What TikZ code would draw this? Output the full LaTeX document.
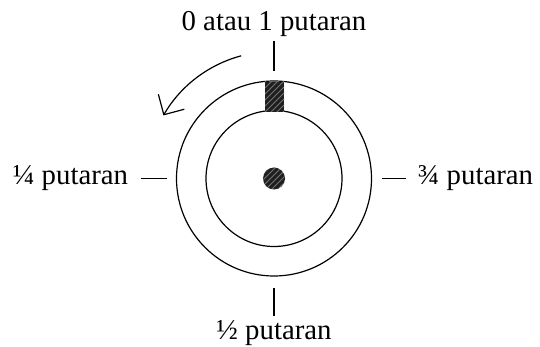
\documentclass[tikz,border=0pt]{standalone}
\usepackage{fontspec}
\setmainfont{Liberation Serif}
\usetikzlibrary{positioning,arrows.meta,patterns}

\begin{document}
\begin{tikzpicture}[
    x=0.5pt, y=0.5pt,
    ring/.style={circle, draw, line width=0.6pt, inner sep=0pt, outer sep=0pt},
    tanda/.style={rectangle, fill=black!88, inner sep=0pt, outer sep=0pt, postaction={pattern=north east lines, pattern color=black!55}},
    lbl/.style={inner sep=2pt, font=\fontsize{14.4}{17}\selectfont},
    tick/.style={line width=0.6pt, shorten >=5pt},
    panah/.style={-{Straight Barb[length=7.5pt, width=15pt]}, line width=0.6pt}
]
\useasboundingbox (0,0) rectangle (540,347);

% Rings
\node[ring, minimum size=97.5pt] (luar) at (274,168.5) {};
\node[ring, minimum size=68pt] (dalam) at (luar) {};

% Marker and axle
\node[tanda, minimum width=9.5pt, minimum height=15pt] (penanda) at (274.5,250) {};
\node[tanda, circle, minimum size=11pt] (poros) at (luar) {};

% Labels
\node[lbl, above=20pt of luar] (nol) {0 atau 1 putaran};
\node[lbl, left=22pt of luar] (seperempat) {¼ putaran};
\node[lbl, right=21pt of luar] (tigaperempat) {¾ putaran};
\node[lbl, below=20pt of luar] (setengah) {½ putaran};

% Ticks
\draw[tick] (nol) -- (luar);
\draw[tick, shorten <=4pt] (seperempat) -- (luar);
\draw[tick, shorten <=4pt] (tigaperempat) -- (luar);
\draw[tick, shorten >=6pt] (setengah) -- (luar);

% Direction of turning
\draw[panah] ([shift={(105:127)}]luar.center) arc[start angle=105, end angle=150, radius=128];

\end{tikzpicture}
\end{document}
